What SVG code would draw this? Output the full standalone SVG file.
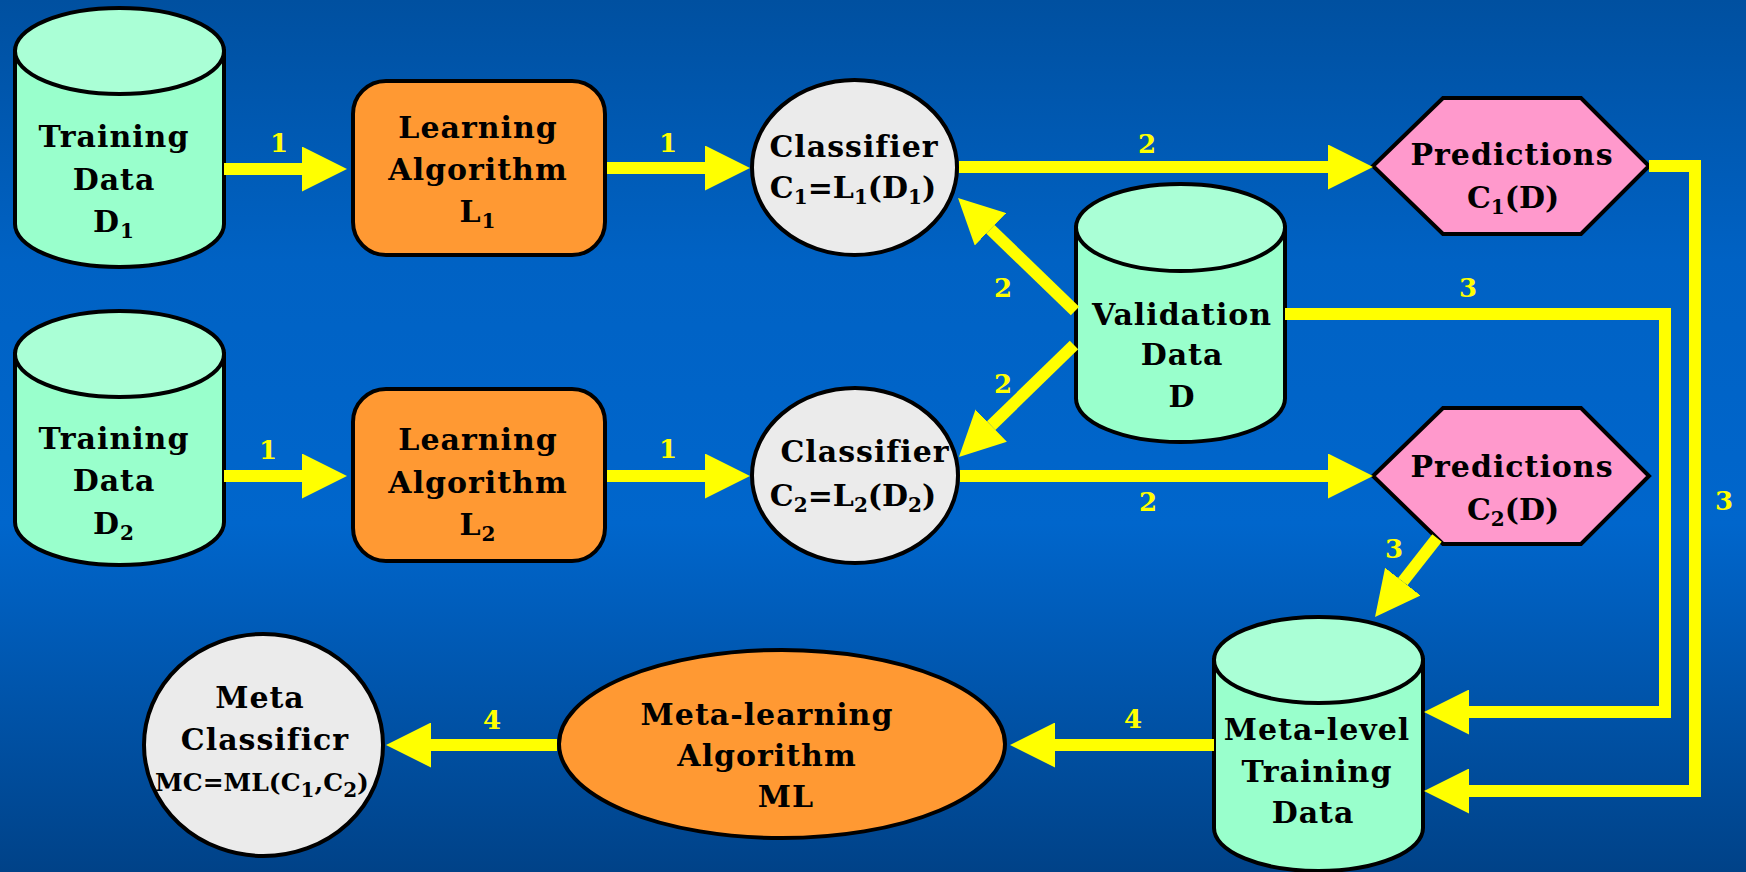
<svg xmlns="http://www.w3.org/2000/svg" width="1746" height="872" viewBox="0 0 1746 872">
  <defs>
    <linearGradient id="bg" x1="0" y1="0" x2="0" y2="1">
      <stop offset="0" stop-color="#0050A0"/>
      <stop offset="0.3" stop-color="#0062C4"/>
      <stop offset="0.6" stop-color="#0066CC"/>
      <stop offset="1" stop-color="#004288"/>
    </linearGradient>
    <marker id="head" viewBox="0 0 45 45" refX="0" refY="22.5" markerWidth="45" markerHeight="45" markerUnits="userSpaceOnUse" orient="auto">
      <path d="M0,0 L45,22.5 L0,45 Z" fill="#FFFF00"/>
    </marker>
    <style>
      .shape { stroke: #000; stroke-width: 4; }
      .db { fill: #99FFCC; }
      .dbtop { fill: #AAFFD6; }
      .algo { fill: #FF9933; }
      .clf { fill: #EBEBEB; }
      .pred { fill: #FF99CC; }
      .t { font-family: "DejaVu Serif", "Liberation Serif", serif; font-weight: bold; font-size: 30px; letter-spacing: 1px; fill: #000; text-anchor: middle; }
      .tight { letter-spacing: 0; }
      .s { font-size: 20px; }
      .small { font-size: 25px; letter-spacing: 0; }
      .lbl { font-family: "DejaVu Serif", "Liberation Serif", serif; font-weight: bold; font-size: 26px; fill: #FFFF00; text-anchor: middle; }
      .wire { fill: none; stroke: #FFFF00; stroke-width: 12; stroke-linejoin: miter; }
    </style>
  </defs>

  <rect width="1746" height="872" fill="url(#bg)"/>

  <!-- Training data D1 -->
  <g id="training-d1">
    <path class="shape db" d="M15,51 V224 A104.5,43 0 0 0 224,224 V51 Z"/>
    <ellipse class="shape dbtop" cx="119.5" cy="51" rx="104.5" ry="43"/>
    <text class="t" x="114" y="147">Training</text>
    <text class="t" x="114" y="190">Data</text>
    <text class="t" x="114" y="232">D<tspan class="s" dy="6">1</tspan></text>
  </g>

  <!-- Training data D2 -->
  <g id="training-d2">
    <path class="shape db" d="M15,354 V522 A104.5,43 0 0 0 224,522 V354 Z"/>
    <ellipse class="shape dbtop" cx="119.5" cy="354" rx="104.5" ry="43"/>
    <text class="t" x="114" y="449">Training</text>
    <text class="t" x="114" y="491">Data</text>
    <text class="t" x="114" y="534">D<tspan class="s" dy="6">2</tspan></text>
  </g>

  <!-- Learning algorithm L1 -->
  <g id="learner-l1">
    <rect class="shape algo" x="353" y="81" width="252" height="174" rx="33" ry="33"/>
    <text class="t" x="478" y="138">Learning</text>
    <text class="t" x="478" y="180">Algorithm</text>
    <text class="t" x="478" y="222">L<tspan class="s" dy="6">1</tspan></text>
  </g>

  <!-- Learning algorithm L2 -->
  <g id="learner-l2">
    <rect class="shape algo" x="353" y="389" width="252" height="172" rx="33" ry="33"/>
    <text class="t" x="478" y="450">Learning</text>
    <text class="t" x="478" y="493">Algorithm</text>
    <text class="t" x="478" y="535">L<tspan class="s" dy="6">2</tspan></text>
  </g>

  <!-- Classifier C1 -->
  <g id="classifier-c1">
    <ellipse class="shape clf" cx="854.5" cy="167.5" rx="102.5" ry="87.5"/>
    <text class="t" x="854" y="157">Classifier</text>
    <text class="t tight" x="853" y="198">C<tspan class="s" dy="6">1</tspan><tspan dy="-6">=L</tspan><tspan class="s" dy="6">1</tspan><tspan dy="-6">(D</tspan><tspan class="s" dy="6">1</tspan><tspan dy="-6">)</tspan></text>
  </g>

  <!-- Classifier C2 -->
  <g id="classifier-c2">
    <ellipse class="shape clf" cx="855" cy="475.5" rx="103" ry="87.5"/>
    <text class="t" x="865" y="462">Classifier</text>
    <text class="t tight" x="853" y="506">C<tspan class="s" dy="6">2</tspan><tspan dy="-6">=L</tspan><tspan class="s" dy="6">2</tspan><tspan dy="-6">(D</tspan><tspan class="s" dy="6">2</tspan><tspan dy="-6">)</tspan></text>
  </g>

  <!-- Validation data D -->
  <g id="validation-d">
    <path class="shape db" d="M1076,227.5 V398.5 A104.5,43.5 0 0 0 1285,398.5 V227.5 Z"/>
    <ellipse class="shape dbtop" cx="1180.5" cy="227.5" rx="104.5" ry="43.5"/>
    <text class="t" x="1182" y="325">Validation</text>
    <text class="t" x="1182" y="365">Data</text>
    <text class="t" x="1182" y="407">D</text>
  </g>

  <!-- Predictions C1(D) -->
  <g id="predictions-c1">
    <polygon class="shape pred" points="1373,166 1443,98 1581,98 1649,166 1581,234 1443,234"/>
    <text class="t" x="1512" y="165">Predictions</text>
    <text class="t tight" x="1513" y="208">C<tspan class="s" dy="6">1</tspan><tspan dy="-6">(D)</tspan></text>
  </g>

  <!-- Predictions C2(D) -->
  <g id="predictions-c2">
    <polygon class="shape pred" points="1373,476 1443,408 1581,408 1649,476 1581,544 1443,544"/>
    <text class="t" x="1512" y="477">Predictions</text>
    <text class="t tight" x="1513" y="520">C<tspan class="s" dy="6">2</tspan><tspan dy="-6">(D)</tspan></text>
  </g>

  <!-- Meta-level training data -->
  <g id="meta-level-data">
    <path class="shape db" d="M1214,660 V828 A104.5,43 0 0 0 1423,828 V660 Z"/>
    <ellipse class="shape dbtop" cx="1318.5" cy="660" rx="104.5" ry="43"/>
    <text class="t" x="1317" y="740">Meta-level</text>
    <text class="t" x="1317" y="782">Training</text>
    <text class="t" x="1313" y="823">Data</text>
  </g>

  <!-- Meta-learning algorithm ML -->
  <g id="meta-learner">
    <ellipse class="shape algo" cx="782" cy="744" rx="223" ry="94"/>
    <text class="t" x="767" y="725">Meta-learning</text>
    <text class="t" x="767" y="766">Algorithm</text>
    <text class="t" x="786" y="807">ML</text>
  </g>

  <!-- Meta classifier MC -->
  <g id="meta-classifier">
    <ellipse class="shape clf" cx="263.5" cy="745" rx="119.5" ry="111"/>
    <text class="t" x="260" y="708">Meta</text>
    <text class="t" x="265" y="750">Classificr</text>
    <text class="t small" x="262" y="791">MC=ML(C<tspan class="s" dy="6">1</tspan><tspan dy="-6">,C</tspan><tspan class="s" dy="6">2</tspan><tspan dy="-6">)</tspan></text>
  </g>

  <!-- Connectors: each path ends at the arrowhead base -->
  <g id="connectors">
    <path class="wire" marker-end="url(#head)" d="M224,169 H302"/>
    <path class="wire" marker-end="url(#head)" d="M224,476 H302"/>
    <path class="wire" marker-end="url(#head)" d="M607,168 H705"/>
    <path class="wire" marker-end="url(#head)" d="M607,476 H705"/>
    <path class="wire" marker-end="url(#head)" d="M959,167 H1328"/>
    <path class="wire" marker-end="url(#head)" d="M960,476 H1328"/>
    <path class="wire" marker-end="url(#head)" d="M1075,311 L990.4,229.3"/>
    <path class="wire" marker-end="url(#head)" d="M1074,345 L991.2,425.6"/>
    <path class="wire" marker-end="url(#head)" d="M1437,538 L1402.8,581.6"/>
    <path class="wire" marker-end="url(#head)" d="M1285,314 H1665 V712 H1469"/>
    <path class="wire" marker-end="url(#head)" d="M1649,166 H1695 V791 H1469"/>
    <path class="wire" marker-end="url(#head)" d="M1214,745 H1055"/>
    <path class="wire" marker-end="url(#head)" d="M557,745 H431"/>

    <text class="lbl" x="279" y="152">1</text>
    <text class="lbl" x="668" y="152">1</text>
    <text class="lbl" x="268" y="459">1</text>
    <text class="lbl" x="668" y="458">1</text>
    <text class="lbl" x="1147" y="153">2</text>
    <text class="lbl" x="1148" y="511">2</text>
    <text class="lbl" x="1003" y="297">2</text>
    <text class="lbl" x="1003" y="393">2</text>
    <text class="lbl" x="1468" y="297">3</text>
    <text class="lbl" x="1724" y="510">3</text>
    <text class="lbl" x="1394" y="558">3</text>
    <text class="lbl" x="1133" y="728">4</text>
    <text class="lbl" x="492" y="729">4</text>
  </g>
</svg>
